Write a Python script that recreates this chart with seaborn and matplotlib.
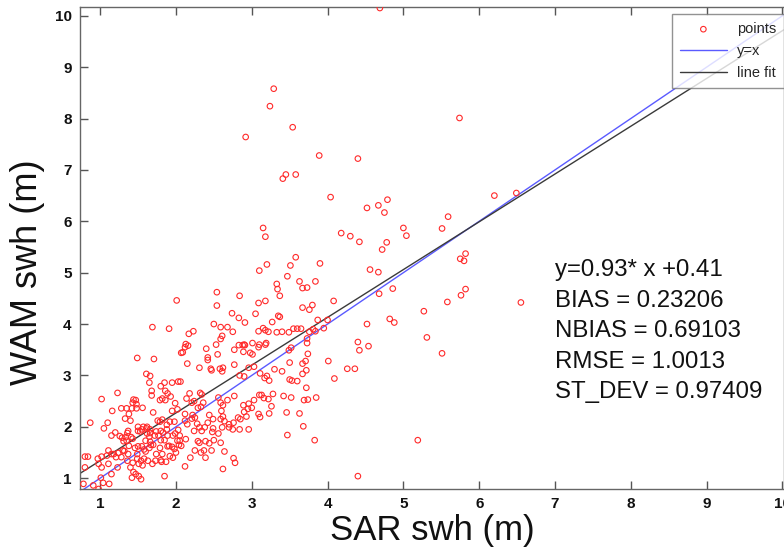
import matplotlib
matplotlib.use("Agg")
import matplotlib.pyplot as plt
import seaborn as sns
import numpy as np
import pandas as pd

# ---- data ----
sar_swh = [
    3.15, 3.18, 4.18, 4.30, 4.42, 3.20, 3.10, 3.58, 3.51, 3.90, 3.63, 3.73, 3.67, 3.84, 3.47, 3.33,
    3.34, 3.37, 3.18, 3.09, 4.08, 3.67, 3.76, 3.80, 2.54, 2.54, 2.84, 2.01, 3.05, 2.74, 3.35, 3.37,
    3.27, 1.69, 1.91, 2.23, 2.17, 2.50, 2.83, 2.91, 2.68, 2.75, 2.59, 2.61, 2.59, 3.15, 3.18, 3.09,
    3.22, 3.33, 3.40, 3.55, 3.60, 3.65, 3.49, 3.76, 3.87, 3.81, 3.84, 3.73, 4.00, 3.95, 3.01, 3.10,
    3.18, 3.19, 3.09, 2.98, 3.01, 2.90, 2.83, 2.88, 2.91, 2.77, 2.89, 2.53, 2.55, 2.40, 2.42, 2.42,
    2.07, 2.09, 2.13, 2.16, 2.12, 2.15, 2.31, 2.46, 2.47, 2.58, 2.62, 2.61, 2.77, 2.96, 2.84, 2.90,
    3.03, 3.11, 3.20, 3.23, 3.17, 3.30, 3.40, 3.50, 3.52, 3.49, 3.50, 3.53, 3.67, 3.71, 3.73, 3.72,
    3.74, 4.01, 4.09, 4.26, 4.36, 4.40, 4.42, 1.49, 1.61, 1.71, 1.66, 1.65, 1.68, 1.68, 1.80, 1.85,
    1.95, 2.03, 2.06, 1.86, 1.89, 1.93, 1.82, 1.79, 1.86, 1.99, 2.02, 1.23, 1.02, 1.16, 1.28, 1.35,
    1.42, 1.44, 1.43, 1.47, 1.48, 1.48, 1.56, 1.38, 1.40, 1.33, 1.37, 1.36, 1.50, 1.50, 1.55, 1.57,
    1.61, 1.62, 1.66, 1.62, 1.53, 1.70, 1.76, 1.79, 1.82, 1.88, 1.92, 1.88, 1.83, 1.74, 1.77, 1.66,
    1.67, 1.70, 1.80, 1.89, 1.95, 2.04, 1.99, 2.05, 2.02, 2.03, 1.98, 1.95, 2.12, 2.12, 2.15, 2.21,
    2.25, 2.29, 2.21, 2.24, 2.33, 2.14, 2.18, 2.32, 2.34, 2.36, 2.22, 2.28, 2.31, 2.24, 2.13, 2.05,
    2.07, 2.29, 2.31, 2.25, 2.39, 2.37, 2.44, 2.50, 2.48, 2.49, 2.42, 2.44, 2.38, 2.34, 2.49, 2.59,
    2.61, 2.62, 2.64, 2.60, 2.62, 2.59, 2.56, 2.68, 2.77, 2.82, 2.84, 2.70, 2.70, 2.76, 2.90, 2.93,
    2.89, 2.95, 3.00, 2.96, 3.03, 2.85, 2.96, 2.75, 2.47, 2.56, 2.59, 2.64, 2.62, 2.76, 2.78, 2.12,
    2.19, 2.33, 2.39, 1.92, 1.87, 1.85, 1.74, 1.73, 1.69, 1.63, 1.58, 1.54, 1.56, 1.49, 1.51, 1.43,
    1.40, 1.36, 1.44, 1.47, 1.51, 1.54, 1.42, 1.23, 1.15, 1.12, 1.04, 0.98, 1.01, 0.91, 0.78, 0.80,
    0.80, 0.84, 0.87, 0.97, 1.02, 1.09, 0.98, 1.02, 1.11, 1.15, 1.18, 1.24, 1.21, 1.11, 1.15, 1.05,
    1.10, 1.20, 1.30, 1.31, 1.35, 1.38, 1.26, 1.29, 1.41, 1.43, 1.46, 1.50, 1.55, 1.58, 1.60, 1.60,
    1.65, 1.72, 1.66, 1.65, 1.49, 1.37, 1.32, 1.28, 1.34, 1.80, 1.81, 1.82, 1.96, 2.00, 1.98, 1.91,
    1.85, 1.79, 1.96, 1.89, 1.80, 3.83, 3.68, 3.10, 3.13, 3.22, 3.16, 3.23, 3.26, 3.09, 3.11, 3.42,
    3.52, 3.46, 3.63, 3.69, 3.74, 3.85, 3.72, 3.60, 3.67, 3.47, 3.28,
    4.69, 5.74, 3.54, 3.89, 4.40, 3.45, 3.41, 3.58, 4.04, 6.20, 6.49, 4.52, 4.67, 4.79, 4.75, 5.59,
    5.51, 5.00, 5.04, 4.78, 4.72, 4.56, 4.67, 4.86, 5.75, 5.80, 5.82, 5.82, 5.76, 4.68, 5.58, 6.55,
    5.27, 4.82, 4.88, 4.52, 4.54, 5.31, 5.51, 5.19, 4.40, 3.24, 3.29, 2.92,
]
wam_swh = [
    5.87, 5.70, 5.77, 5.71, 5.60, 5.16, 5.04, 5.30, 5.14, 5.18, 4.83, 4.71, 4.70, 4.83, 4.93, 4.78,
    4.68, 4.55, 4.45, 4.41, 4.45, 4.32, 4.28, 4.37, 4.62, 4.36, 4.55, 4.46, 4.20, 4.21, 4.16, 4.14,
    4.04, 3.94, 3.91, 3.86, 3.81, 4.00, 4.12, 4.03, 3.94, 3.85, 3.94, 3.77, 3.71, 3.92, 3.88, 3.86,
    3.85, 3.84, 3.85, 3.91, 3.91, 3.91, 3.84, 3.85, 4.08, 3.90, 3.86, 3.72, 4.08, 3.92, 3.63, 3.60,
    3.60, 3.63, 3.55, 3.44, 3.41, 3.60, 3.59, 3.59, 3.59, 3.50, 3.46, 3.60, 3.41, 3.52, 3.35, 3.30,
    3.44, 3.45, 3.61, 3.58, 3.55, 3.23, 3.15, 3.13, 3.10, 3.13, 3.15, 3.08, 3.21, 3.15, 3.00, 2.98,
    3.17, 3.04, 2.99, 2.90, 2.95, 3.12, 3.08, 3.25, 3.54, 3.49, 2.92, 2.90, 3.23, 3.28, 3.63, 3.10,
    3.42, 3.28, 2.94, 3.13, 3.13, 3.65, 3.49, 3.34, 3.03, 3.32, 2.99, 2.86, 2.70, 2.61, 2.79, 2.86,
    2.86, 2.88, 2.88, 2.70, 2.65, 2.59, 2.55, 2.52, 2.52, 2.46, 2.34, 2.66, 2.54, 2.31, 2.36, 2.36,
    2.36, 2.53, 2.47, 2.52, 2.44, 2.36, 2.37, 2.25, 2.12, 2.16, 1.92, 1.88, 2.00, 1.92, 1.95, 2.00,
    1.97, 2.00, 1.95, 1.87, 1.91, 2.28, 2.12, 2.10, 2.14, 2.04, 2.10, 1.95, 1.89, 1.91, 1.83, 1.71,
    1.65, 1.65, 1.74, 1.62, 1.61, 1.65, 1.87, 1.83, 1.73, 1.94, 2.10, 2.31, 2.25, 2.12, 2.05, 2.16,
    2.18, 2.37, 2.47, 2.50, 2.39, 2.55, 2.65, 2.66, 2.63, 2.47, 2.23, 2.06, 1.99, 1.92, 1.76, 1.73,
    1.63, 1.72, 1.69, 1.54, 1.72, 1.54, 1.68, 1.74, 1.90, 1.97, 2.08, 2.23, 1.99, 1.92, 2.15, 2.15,
    1.99, 2.20, 2.11, 2.31, 2.42, 2.47, 2.57, 2.52, 2.60, 2.18, 1.95, 2.05, 1.99, 2.08, 2.29, 2.20,
    2.42, 2.35, 2.37, 2.45, 2.52, 2.15, 1.95, 1.95, 1.54, 1.87, 1.69, 1.52, 1.18, 1.39, 1.30, 1.23,
    1.40, 1.50, 1.40, 1.43, 1.32, 1.04, 1.47, 1.34, 1.28, 1.34, 1.38, 1.34, 1.25, 1.38, 1.28, 1.30,
    1.21, 1.34, 1.12, 1.08, 1.04, 0.98, 1.01, 1.21, 1.08, 0.89, 0.91, 0.79, 1.01, 0.86, 0.89, 1.21,
    1.42, 1.42, 2.08, 1.38, 1.42, 1.44, 1.28, 1.21, 1.28, 1.47, 1.47, 1.49, 1.41, 1.54, 1.83, 1.97,
    2.08, 1.89, 1.54, 1.72, 1.73, 1.63, 1.82, 1.79, 1.80, 1.77, 1.59, 1.62, 1.62, 1.56, 1.73, 1.52,
    1.59, 1.83, 1.88, 1.81, 1.47, 1.47, 1.53, 1.41, 1.80, 1.35, 1.32, 1.47, 1.40, 1.50, 1.57, 1.63,
    1.74, 1.59, 1.83, 1.83, 1.92, 1.74, 2.01, 2.62, 2.62, 2.54, 2.56, 2.26, 2.40, 2.25, 2.19, 2.60,
    2.57, 2.28, 2.26, 2.52, 2.53, 2.57, 2.76, 2.89, 3.03, 1.84, 2.64,
    10.15, 8.01, 7.83, 7.28, 7.22, 6.91, 6.83, 6.91, 6.47, 6.50, 6.55, 6.26, 6.31, 6.42, 6.17, 6.09,
    5.86, 5.87, 5.72, 5.59, 5.45, 5.06, 5.01, 4.69, 5.27, 5.23, 5.37, 4.68, 4.56, 4.59, 4.43, 4.42,
    4.25, 4.10, 4.03, 4.00, 3.57, 3.74, 3.43, 1.74, 1.04, 8.24, 8.58, 7.64,
]

fit_slope = 0.93
fit_intercept = 0.41
stats_lines = [
    "y=0.93* x +0.41",
    "BIAS = 0.23206",
    "NBIAS = 0.69103",
    "RMSE = 1.0013",
    "ST_DEV = 0.97409",
]
x_ticks = [1, 2, 3, 4, 5, 6, 7, 8, 9, 10]
y_ticks = [1, 2, 3, 4, 5, 6, 7, 8, 9, 10]

df = pd.DataFrame({"SAR": sar_swh, "WAM": wam_swh})

sns.set_theme(style="white")
plt.rcParams["font.family"] = ["Liberation Sans", "DejaVu Sans"]

fig = plt.figure(figsize=(7.84, 5.5), dpi=100)
ax = fig.add_axes([80 / 784, 61 / 550, 704 / 784, 482 / 550])

sns.scatterplot(data=df, x="SAR", y="WAM", ax=ax, marker="o", s=16,
                facecolors="none", edgecolors="#ff2a2a", linewidth=0.8,
                label="points", zorder=3)

xlim = (0.735, 10.02)
xx = np.array(xlim)
ax.plot(xx, xx, color="#5a5aff", lw=1.0, label="y=x", zorder=2)
ax.plot(xx, fit_slope * xx + fit_intercept, color="#3a3a3a", lw=1.0,
        label="line fit", zorder=2)

ax.set_xlim(*xlim)
ax.set_ylim(0.79, 10.17)
ax.set_xticks(x_ticks)
ax.set_yticks(y_ticks)
ax.tick_params(direction="in", length=6, width=1, color="#555555",
               labelsize=11, labelcolor="#111111", top=True, right=False,
               bottom=True, left=True, pad=6)
for lab in ax.get_xticklabels() + ax.get_yticklabels():
    lab.set_fontweight("bold")
for s in ["left", "bottom", "top", "right"]:
    ax.spines[s].set_color("#666666")
    ax.spines[s].set_linewidth(1.0)

ax.set_xlabel("SAR swh (m)", fontsize=25, labelpad=2, color="#111111")
ax.set_ylabel("WAM swh (m)", fontsize=26, color="#111111")
ax.yaxis.set_label_coords(-0.05, 0.45)

leg = ax.legend(loc="upper left", bbox_to_anchor=(672 / 784, 1 - 14 / 550),
                bbox_transform=fig.transFigure, frameon=True, fancybox=False,
                fontsize=10.5, handlelength=3.2, borderpad=0.55, labelspacing=0.55,
                handletextpad=0.7, borderaxespad=0)
leg.get_frame().set_edgecolor("#777777")
leg.get_frame().set_linewidth(1.0)

y0 = 270
for i, t in enumerate(stats_lines):
    fig.text(555 / 784, 1 - (y0 + i * 30.6) / 550, t, fontsize=17.3,
             va="center", ha="left", color="#111111")

fig.savefig("out.png", dpi=100)
